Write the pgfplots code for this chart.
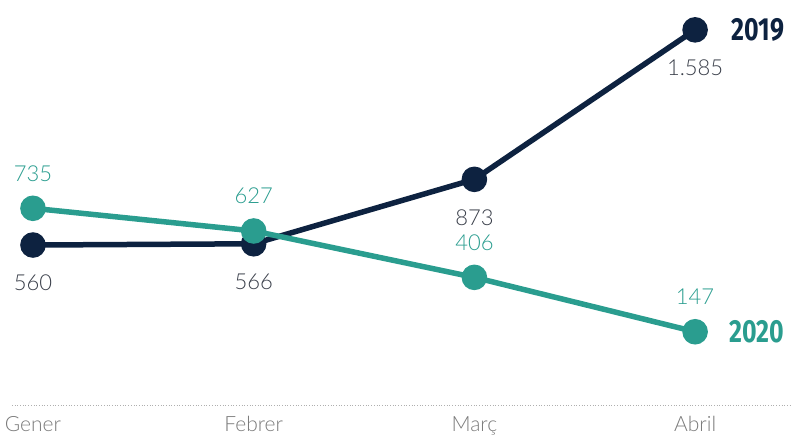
\documentclass[border=0pt]{standalone}
\usepackage{fontspec}
\setmainfont{Lato}[UprightFont=* Light, BoldFont=* Bold]
\newfontfamily\condfont{Fira Sans}[FakeStretch=0.78]
\usepackage{pgfplots}
\pgfplotsset{compat=1.18}
\definecolor{navy}{HTML}{0D2240}
\definecolor{teal20}{HTML}{2A9D8F}
\definecolor{tickgray}{HTML}{7A7A7A}
\definecolor{valgray}{HTML}{3A3F4A}
\begin{document}
\begin{tikzpicture}[x=1pt,y=1pt]
\path[use as bounding box] (0,0) rectangle (793,439);
\begin{axis}[
  at={(12pt,34pt)}, anchor=south west,
  scale only axis, width=778pt, height=385pt,
  xmin=-0.095, xmax=3.43, ymin=-202, ymax=1632,
  axis x line=bottom, axis y line=none,
  x axis line style={dotted, tickgray!60, line width=0.7pt, -},
  xtick={0,1,2,3}, xticklabels={Gener,Febrer,Març,Abril},
  major tick length=0pt,
  xticklabel style={font=\fontsize{21}{24}\selectfont, text=tickgray, yshift=-8pt},
  clip=false,
  point meta=explicit symbolic,
  nodes near coords,
]
\addplot[navy, line width=5.5pt, mark=*, mark size=10pt,
  mark options={fill=navy, draw=navy},
  every node near coord/.append style={anchor=center, yshift=-38pt, text=valgray,
    font=\fontsize{22}{25}\selectfont}]
  coordinates {(0,560)[560] (1,566)[566] (2,873)[873] (3,1585)[1.585]};
\addplot[teal20, line width=5.5pt, mark=*, mark size=10pt,
  mark options={fill=teal20, draw=teal20},
  every node near coord/.append style={anchor=center, yshift=35pt, text=teal20,
    font=\fontsize{22}{25}\selectfont}]
  coordinates {(0,735)[735] (1,627)[627] (2,406)[406] (3,147)[147]};
\node[anchor=west, text=navy, font=\condfont\bfseries\fontsize{32}{34}\selectfont]
  at (axis cs:3,1585) [xshift=33pt] {2019};
\node[anchor=west, text=teal20, font=\condfont\bfseries\fontsize{32}{34}\selectfont]
  at (axis cs:3,147) [xshift=31pt] {2020};
\end{axis}
\end{tikzpicture}
\end{document}
